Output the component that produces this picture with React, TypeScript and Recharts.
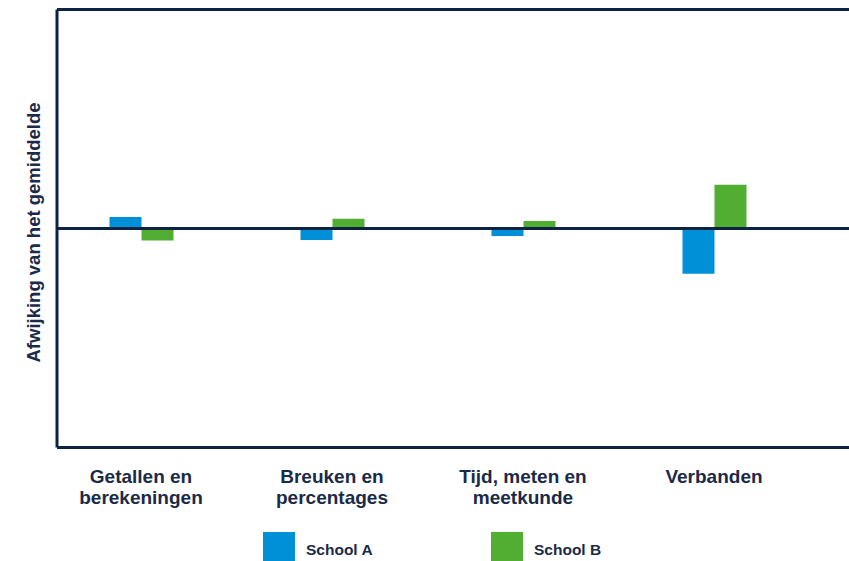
import { BarChart, Bar, XAxis, YAxis, ReferenceLine, Legend, Label } from 'recharts'

const categories = ['Getallen en\nberekeningen', 'Breuken en\npercentages', 'Tijd, meten en\nmeetkunde', 'Verbanden']
const schoolA = [0.53, -0.53, -0.34, -2.07]
const schoolB = [-0.55, 0.45, 0.34, 2.0]
const seriesNames = ['School A', 'School B']
const yDomain = [-10, 10]

const NAVY = '#0c2343'
const TEXT = '#1a2a48'
const BLUE = '#0090d8'
const GREEN = '#52ae32'
const FONT = '"Liberation Sans", Arial, sans-serif'

const data = categories.map((name, i) => ({ name, a: schoolA[i], b: schoolB[i] }))

function CategoryTick({ x, y, payload }: { x: number; y: number; payload: { value: string } }) {
  const lines = String(payload.value).split('\n')
  return (
    <text x={x} y={y} textAnchor="middle" fill={TEXT} fontFamily={FONT} fontWeight="bold" fontSize={19}>
      {lines.map((line, i) => (
        <tspan key={i} x={x} dy={i === 0 ? 35.5 : 21}>{line}</tspan>
      ))}
    </text>
  )
}

function YLabel({ viewBox }: { viewBox?: { x: number; y: number; width: number; height: number } }) {
  if (!viewBox) return null
  const cx = viewBox.x + viewBox.width / 2 + 4.5
  const cy = viewBox.y + viewBox.height / 2 + 4
  return (
    <text
      x={cx}
      y={cy}
      dy="0.355em"
      transform={`rotate(-90, ${cx}, ${cy})`}
      textAnchor="middle"
      fill={TEXT}
      fontFamily={FONT}
      fontWeight="bold"
      fontSize={18.5}
    >
      Afwijking van het gemiddelde
    </text>
  )
}

function LegendContent({ payload }: { payload?: { value: string; color: string }[] }) {
  return (
    <div style={{ display: 'flex', paddingLeft: 263 }}>
      {(payload ?? []).map((item) => (
        <div key={item.value} style={{ display: 'flex', width: 228, alignItems: 'flex-start' }}>
          <div style={{ width: 32, height: 32, background: item.color }} />
          <span
            style={{
              marginLeft: 11,
              marginTop: 9,
              lineHeight: '18px',
              fontSize: 15.5,
              fontWeight: 'bold',
              fontFamily: FONT,
              color: TEXT,
            }}
          >
            {item.value}
          </span>
        </div>
      ))}
    </div>
  )
}

export default function App() {
  return (
    <div style={{ position: 'absolute', left: 0, top: 0, width: 849, height: 561, overflow: 'hidden', background: '#fff' }}>
      <BarChart
        width={849}
        height={561}
        data={data}
        barGap={0}
        // legend (32px tall) is added to the bottom offset by recharts
        margin={{ top: 9.5, right: 0, left: 0, bottom: 83.5 }}
      >
        <XAxis
          dataKey="name"
          interval={0}
          padding={{ left: -11.5, right: 39.5 }}
          axisLine={{ stroke: NAVY, strokeWidth: 3 }}
          tickLine={false}
          tickSize={0}
          tickMargin={0}
          tick={CategoryTick as any}
        />
        <YAxis
          width={57}
          domain={yDomain}
          allowDataOverflow
          tick={false}
          tickLine={false}
          axisLine={{ stroke: NAVY, strokeWidth: 3 }}
        >
          <Label content={YLabel as any} />
        </YAxis>
        <ReferenceLine y={yDomain[1]} stroke={NAVY} strokeWidth={3} ifOverflow="visible" />
        <Legend
          layout="horizontal"
          verticalAlign="middle"
          align="center"
          wrapperStyle={{ left: 0, top: 532, width: 849 }}
          content={LegendContent as any}
        />
        <Bar dataKey="a" name={seriesNames[0]} fill={BLUE} barSize={32} isAnimationActive={false} />
        <Bar dataKey="b" name={seriesNames[1]} fill={GREEN} barSize={32} isAnimationActive={false} />
        <ReferenceLine y={0} stroke={NAVY} strokeWidth={3} />
      </BarChart>
    </div>
  )
}
